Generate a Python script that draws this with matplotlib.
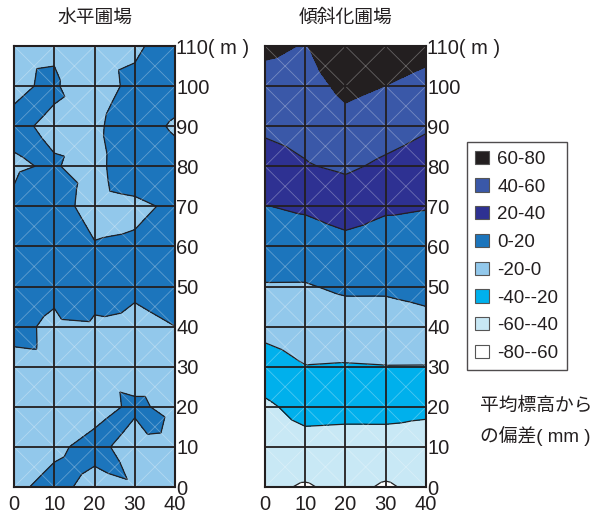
"""
圃場の標高偏差コンター図 (水平圃場 / 傾斜化圃場)
"""
import numpy as np
import matplotlib
matplotlib.use('Agg')
import matplotlib.pyplot as plt
import matplotlib.tri as mtri
from matplotlib.patches import Patch

plt.rcParams['font.family'] = ['Liberation Sans', 'Noto Sans CJK JP', 'DejaVu Sans']

# 測点 (m)
xs = [0, 10, 20, 30, 40]
ys = [110, 100, 90, 80, 70, 60, 50, 40, 30, 20, 10, 0]

# 平均標高からの偏差 (mm)  行: y=110 -> 0, 列: x=0 -> 40
flat_z = [
    [-10, -2, -10, -5, 15],
    [-2, 2, -12.3, 6.9, 10],
    [2.35, -2.45, -3, 9.5, -2.84],
    [-1.3, 1.2, -6, 14, 8.5],
    [1.5, 10, -9.6, -4.7, 4.0],
    [10, 12, 1.7, 3.4, 12],
    [10, 10, 12, 7, 10],
    [10.8, -8.5, -5, -10.5, -0.2],
    [-10.8, -10, -10, -8, -10],
    [-10, -8, -5.7, 2.8, -4.4],
    [-10, -2.9, 4.9, -7.4, -10],
    [-3, 4.7, -5.3, -1.5, -10],
]
# 各区画中心の値  行: y=105 -> 5, 列: x=5 -> 35
flat_c = [
    [-0.3, -4.7, -1.7, 11],
    [2.2, -1.85, 2.2, 8],
    [1.6, -1.2, 3.7, 8],
    [3.3, 1.2, 3.0, 9],
    [8, 5.8, -2.1, 3.7],
    [10, 9, 6, 8],
    [8, 15, 5, 3.5],
    [1.4, -8, -8, -7],
    [-9, -8, -1.0, -2.6],
    [-7, -4.3, 4, 4.3],
    [-2.9, 3, 2.5, -7],
]

slope_z = [
    [64.0, 58.9, 75.3, 71.1, 66.3],
    [52.7, 52.4, 64.5, 59.8, 54.1],
    [43.3, 45.9, 53.8, 48.5, 42.0],
    [31.9, 38.7, 43.0, 36.5, 31.2],
    [19.5, 22.6, 28.4, 22.3, 20.8],
    [9.3, 10.2, 14.4, 12.1, 12.9],
    [-1.1, -1.2, 2.8, 2.7, 5.1],
    [-14.3, -10.7, -9.1, -8.5, -5.2],
    [-28.5, -20.5, -21.2, -20.5, -20.6],
    [-43.4, -33.3, -34.3, -33.9, -36.4],
    [-50.0, -47.1, -47.5, -47.9, -48.0],
    [-56.0, -61.8, -55.0, -62.1, -55.0],
]

levels = [-80, -60, -40, -20, 0, 20, 40, 60, 80]
level_labels = ['-80--60', '-60--40', '-40--20', '-20-0', '0-20', '20-40', '40-60', '60-80']
level_colors = ['#ffffff', '#c8e8f5', '#00b0ec', '#92c8eb',
                '#1c75bc', '#2e3192', '#3a58a8', '#231f20']

titles = ['水平圃場', '傾斜化圃場']


def build_tri(z, centers=None):
    """格子を4つの三角形に分割 (中心値が無ければ四隅の平均)"""
    z = np.array(z, dtype=float)
    gx, gy = np.meshgrid(xs, ys)
    px = list(gx.ravel())
    py = list(gy.ravel())
    pz = list(z.ravel())
    nx = len(xs)
    tris = []
    for j in range(len(ys) - 1):
        for i in range(nx - 1):
            a = j * nx + i
            b = a + 1
            c = a + nx + 1
            d = a + nx
            k = len(px)
            px.append((xs[i] + xs[i + 1]) / 2)
            py.append((ys[j] + ys[j + 1]) / 2)
            if centers is None:
                pz.append(z[j:j + 2, i:i + 2].mean())
            else:
                pz.append(centers[j][i])
            tris += [[a, b, k], [b, c, k], [c, d, k], [d, a, k]]
    return mtri.Triangulation(px, py, tris), np.array(pz)


fig = plt.figure(figsize=(6.04, 5.17), dpi=100)
ax_pos = [[0.0232, 0.058, 0.2666, 0.853], [0.4387, 0.058, 0.2666, 0.853]]
text_color = '#231f20'

for pos, z, cz, title in zip(ax_pos, [flat_z, slope_z], [flat_c, None], titles):
    ax = fig.add_axes(pos)
    tri, pz = build_tri(z, cz)
    ax.tricontourf(tri, pz, levels=levels, colors=level_colors)
    ax.tricontour(tri, pz, levels=levels[1:-1], colors=text_color,
                  linewidths=0.9, linestyles='solid')

    # 対角線 (薄い白線)
    for x0 in xs[:-1]:
        for y0 in ys[1:]:
            ax.plot([x0, x0 + 10], [y0, y0 + 10], color='white', lw=0.6, alpha=0.3)
            ax.plot([x0, x0 + 10], [y0 + 10, y0], color='white', lw=0.6, alpha=0.3)

    ax.set_xlim(0, 40)
    ax.set_ylim(0, 110)
    ax.set_xticks(xs)
    ax.set_yticks(ys)
    ax.set_yticklabels(['110( m )'] + [str(v) for v in ys[1:]])
    ax.yaxis.tick_right()
    ax.tick_params(axis='both', length=0, labelsize=14.5, colors=text_color, pad=1)
    ax.tick_params(axis='x', pad=5.5)
    ax.set_axisbelow(False)
    ax.grid(True, color=text_color, lw=1.3)
    for s in ax.spines.values():
        s.set_color(text_color)
        s.set_linewidth(1.5)

    fig.text(pos[0] + pos[2] / 2, 0.965, title, ha='center', va='center',
             fontsize=13.5, color=text_color)

# 凡例
handles = [Patch(facecolor=c, edgecolor='#555555', linewidth=0.8)
           for c in level_colors[::-1]]
leg = fig.legend(handles, level_labels[::-1], loc='upper left',
                 bbox_to_anchor=(0.773, 0.725), borderaxespad=0, fontsize=13.5,
                 frameon=True, fancybox=False, edgecolor=text_color,
                 handlelength=0.72, handleheight=0.72, handletextpad=0.45,
                 labelspacing=0.56, borderpad=0.45)
leg.get_frame().set_linewidth(1.0)
for t in leg.get_texts():
    t.set_color(text_color)

fig.text(0.795, 0.215, '平均標高から', fontsize=13.5, color=text_color, va='center')
fig.text(0.795, 0.157, 'の偏差( mm )', fontsize=13.5, color=text_color, va='center')

plt.savefig('out.png', dpi=100, facecolor='white')
plt.close()
